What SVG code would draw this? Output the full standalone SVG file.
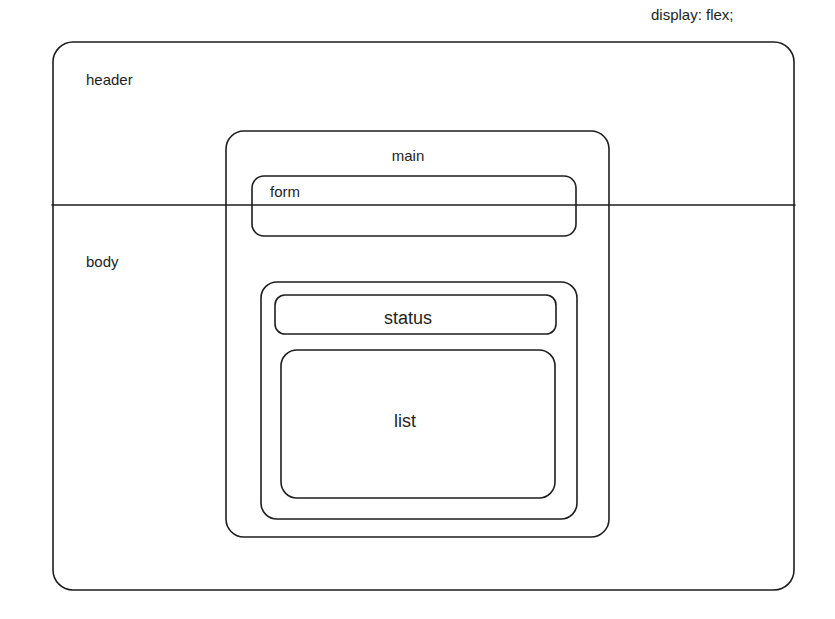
<svg xmlns="http://www.w3.org/2000/svg" width="835" height="619" viewBox="0 0 835 619">
<style>
.box{fill:none;stroke:#1e1e1e;stroke-width:1.6;stroke-linecap:round}
.t{font-family:"Liberation Sans","DejaVu Sans",sans-serif;fill:#1e1e1e}
</style>
<rect width="835" height="619" fill="#ffffff"/>
<text class="t" x="651" y="20" font-size="15">display: flex;</text>
<g id="page">
<rect class="box" x="53" y="42" width="741" height="548" rx="20"/>
<line class="box" x1="52" y1="205" x2="795" y2="205"/>
<text class="t" x="86" y="85" font-size="15">header</text>
<text class="t" x="86" y="267" font-size="15">body</text>
</g>
<g id="main">
<rect class="box" x="226" y="131" width="383" height="406" rx="18"/>
<text class="t" x="408" y="161" font-size="15" text-anchor="middle">main</text>
</g>
<g id="form">
<rect class="box" x="252" y="176" width="324" height="60" rx="12"/>
<text class="t" x="270" y="197" font-size="15">form</text>
</g>
<g id="container">
<rect class="box" x="261" y="282" width="316" height="237" rx="16"/>
</g>
<g id="status">
<rect class="box" x="275" y="295" width="281" height="39" rx="10"/>
<text class="t" x="408" y="324" font-size="18" text-anchor="middle">status</text>
</g>
<g id="list">
<rect class="box" x="281" y="350" width="274" height="148" rx="16"/>
<text class="t" x="405" y="427" font-size="18" text-anchor="middle">list</text>
</g>
</svg>
